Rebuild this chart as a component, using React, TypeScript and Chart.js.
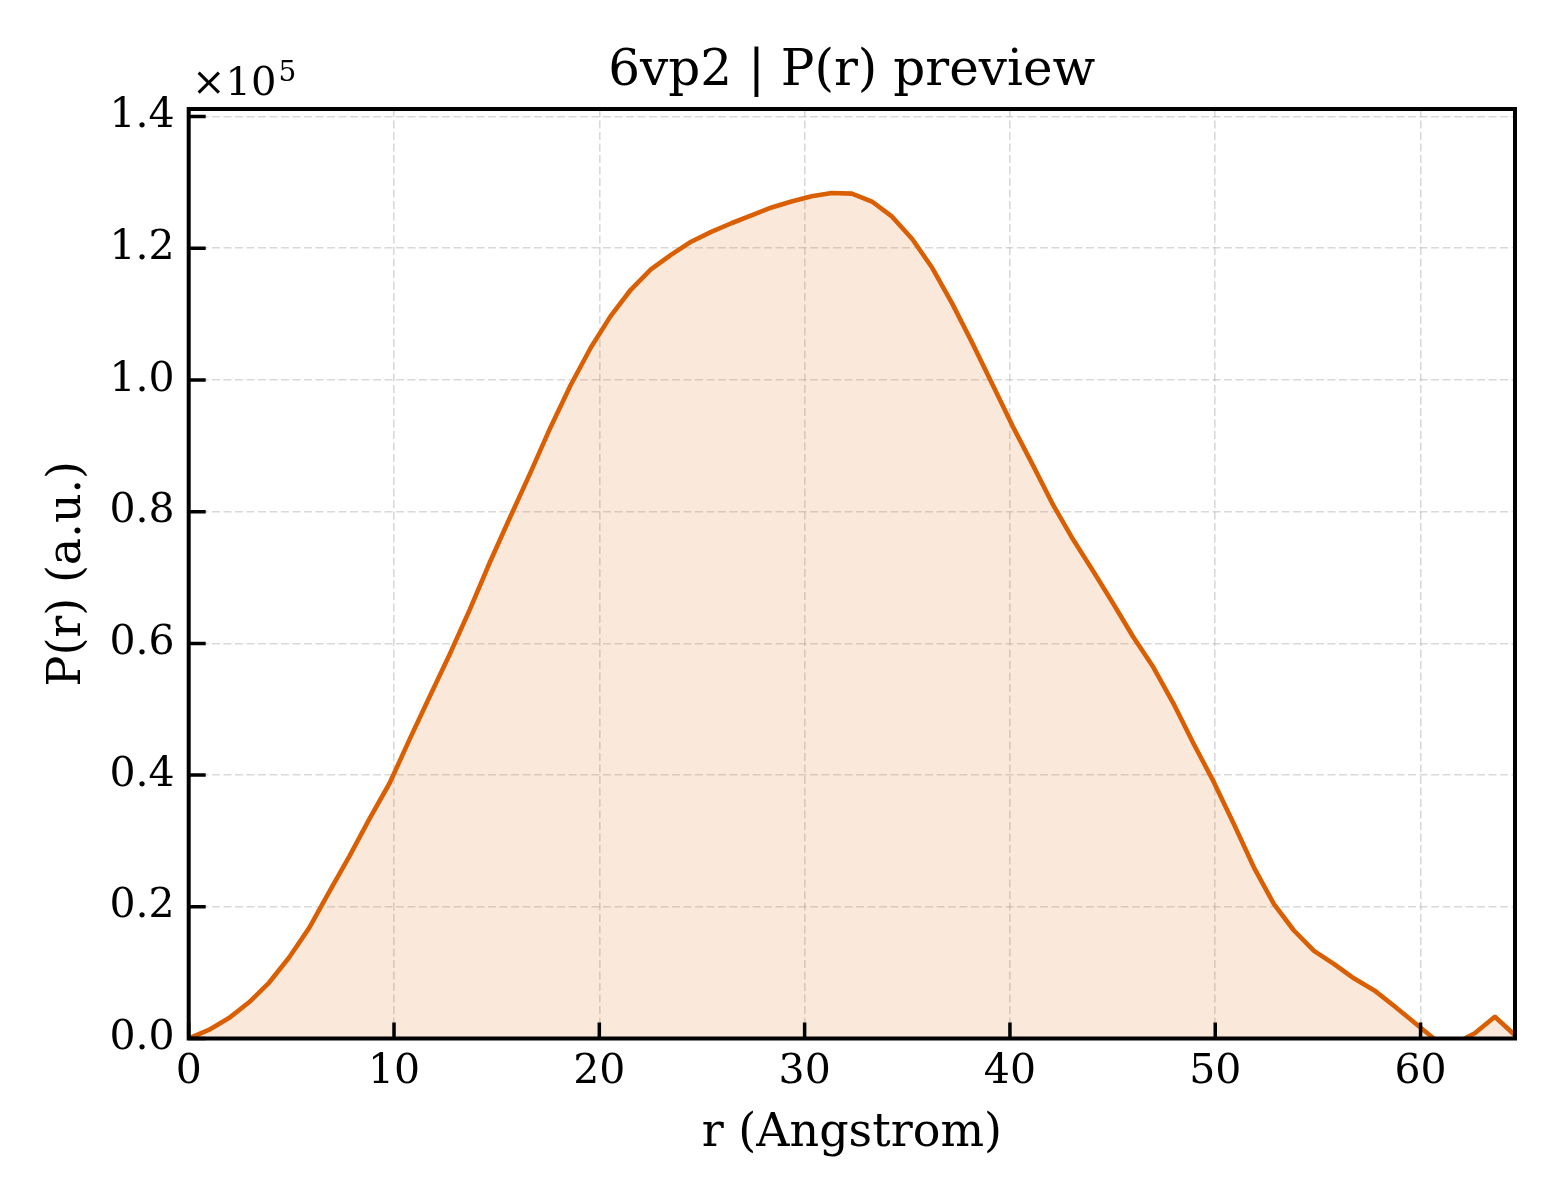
import { useEffect, useRef } from 'react';
import { Chart, registerables } from 'chart.js';

Chart.register(...registerables);

// r in Angstrom
const rValues = [
  0, 0.98, 1.96, 2.94, 3.92, 4.89, 5.87, 6.85, 7.83, 8.81,
  9.79, 10.77, 11.75, 12.72, 13.7, 14.68, 15.66, 16.64, 17.62, 18.6,
  19.58, 20.55, 21.53, 22.51, 23.49, 24.47, 25.45, 26.43, 27.41, 28.39,
  29.36, 30.34, 31.32, 32.3, 33.28, 34.26, 35.24, 36.22, 37.19, 38.17,
  39.15, 40.13, 41.11, 42.09, 43.07, 44.05, 45.02, 46.0, 46.98, 47.96,
  48.94, 49.92, 50.9, 51.88, 52.86, 53.83, 54.81, 55.79, 56.77, 57.75,
  58.73, 59.71, 60.69, 61.66, 62.64, 63.62, 64.6,
];

// P(r), arbitrary units
const prValues = [
  0, 1300, 3100, 5500, 8500, 12300, 16800, 22300, 27700, 33400,
  38800, 45500, 52000, 58400, 65200, 72400, 79200, 85900, 92800, 99200,
  104900, 109700, 113700, 116800, 119000, 121000, 122500, 123800, 125000, 126200,
  127100, 127900, 128400, 128300, 127100, 124800, 121400, 117000, 111600, 105600,
  99300, 93000, 87100, 81100, 75800, 71000, 66100, 61000, 56400, 50900,
  44800, 39000, 32600, 26000, 20400, 16400, 13300, 11300, 9100, 7300,
  4900, 2400, -100, -800, 800, 3300, 500,
];

const xTicks = [0, 10, 20, 30, 40, 50, 60];
const yTicks = [0, 20000, 40000, 60000, 80000, 100000, 120000, 140000];

const X_MAX = 64.6;
const Y_MAX = 141150;

const SERIF = '"DejaVu Serif", "Liberation Serif", serif';
const LINE = '#d95f02';
const FILL = 'rgba(217, 95, 2, 0.14)';
const GRID = 'rgba(170, 170, 170, 0.45)';

const framePlugin = {
  id: 'frame',
  afterDraw(chart: any) {
    const { ctx, chartArea: a, scales } = chart;
    ctx.save();

    // inward tick marks, left and bottom only
    ctx.strokeStyle = '#000';
    ctx.lineWidth = 3.5;
    ctx.beginPath();
    xTicks.forEach((v) => {
      const px = scales.x.getPixelForValue(v);
      ctx.moveTo(px, a.bottom);
      ctx.lineTo(px, a.bottom - 16);
    });
    yTicks.forEach((v) => {
      const py = scales.y.getPixelForValue(v);
      ctx.moveTo(a.left, py);
      ctx.lineTo(a.left + 17, py);
    });
    ctx.stroke();

    // box
    ctx.lineWidth = 4;
    ctx.strokeRect(a.left, a.top, a.right - a.left, a.bottom - a.top);

    ctx.fillStyle = '#000';
    ctx.textBaseline = 'alphabetic';

    // title
    ctx.font = `50px ${SERIF}`;
    ctx.textAlign = 'center';
    ctx.fillText('6vp2 | P(r) preview', (a.left + a.right) / 2, 85);

    // x label
    ctx.font = `46px ${SERIF}`;
    ctx.fillText('r (Angstrom)', (a.left + a.right) / 2, 1146);

    // y label
    ctx.save();
    ctx.translate(80, (a.top + a.bottom) / 2);
    ctx.rotate(-Math.PI / 2);
    ctx.fillText('P(r) (a.u.)', 0, 0);
    ctx.restore();

    // offset text
    ctx.textAlign = 'left';
    ctx.font = `40px ${SERIF}`;
    ctx.fillText('\u00d710', 192, 95);
    const w = ctx.measureText('\u00d710').width;
    ctx.font = `28px ${SERIF}`;
    ctx.fillText('5', 192 + w + 2, 81);

    ctx.restore();
  },
};

export default function App() {
  const canvasRef = useRef<HTMLCanvasElement>(null);
  const chartRef = useRef<Chart | null>(null);

  useEffect(() => {
    document.body.style.margin = '0';
    const canvas = canvasRef.current;
    if (!canvas) return;
    const ctx = canvas.getContext('2d');
    if (!ctx) return;

    if (chartRef.current) chartRef.current.destroy();

    const points = rValues.map((r, i) => ({ x: r, y: prValues[i] }));

    chartRef.current = new Chart(ctx, {
      type: 'line',
      data: {
        datasets: [
          {
            label: 'P(r)',
            data: points,
            borderColor: LINE,
            borderWidth: 4.6,
            backgroundColor: FILL,
            fill: 'origin',
            pointRadius: 0,
            tension: 0,
            borderJoinStyle: 'round',
          },
        ],
      },
      options: {
        responsive: false,
        animation: false,
        devicePixelRatio: 1,
        layout: { padding: { left: 0, right: 45, top: 109, bottom: 0 } },
        plugins: {
          legend: { display: false },
          tooltip: { enabled: false },
          title: { display: false },
        },
        scales: {
          x: {
            type: 'linear',
            min: 0,
            max: X_MAX,
            afterBuildTicks: (scale: any) => {
              scale.ticks = xTicks.map((v) => ({ value: v }));
            },
            afterFit: (scale: any) => {
              scale.height = 161.5;
            },
            ticks: {
              color: '#000',
              font: { family: SERIF, size: 41 },
              padding: 9,
              maxRotation: 0,
              callback: (v: any) => String(v),
            },
            grid: { color: GRID, lineWidth: 1.6, drawTicks: false },
            border: { display: false, dash: [8, 3.5] },
          },
          y: {
            type: 'linear',
            min: 0,
            max: Y_MAX,
            afterBuildTicks: (scale: any) => {
              scale.ticks = yTicks.map((v) => ({ value: v }));
            },
            afterFit: (scale: any) => {
              scale.width = 188.7;
            },
            ticks: {
              color: '#000',
              font: { family: SERIF, size: 41 },
              padding: 14,
              callback: (v: any) => (Number(v) / 1e5).toFixed(1),
            },
            grid: { color: GRID, lineWidth: 1.6, drawTicks: false },
            border: { display: false, dash: [8, 3.5] },
          },
        },
      },
      plugins: [framePlugin],
    });

    return () => {
      if (chartRef.current) chartRef.current.destroy();
      chartRef.current = null;
    };
  }, []);

  return (
    <div style={{ width: 1560, height: 1200, background: '#fff' }}>
      <canvas ref={canvasRef} width={1560} height={1200} style={{ display: 'block' }}></canvas>
    </div>
  );
}
